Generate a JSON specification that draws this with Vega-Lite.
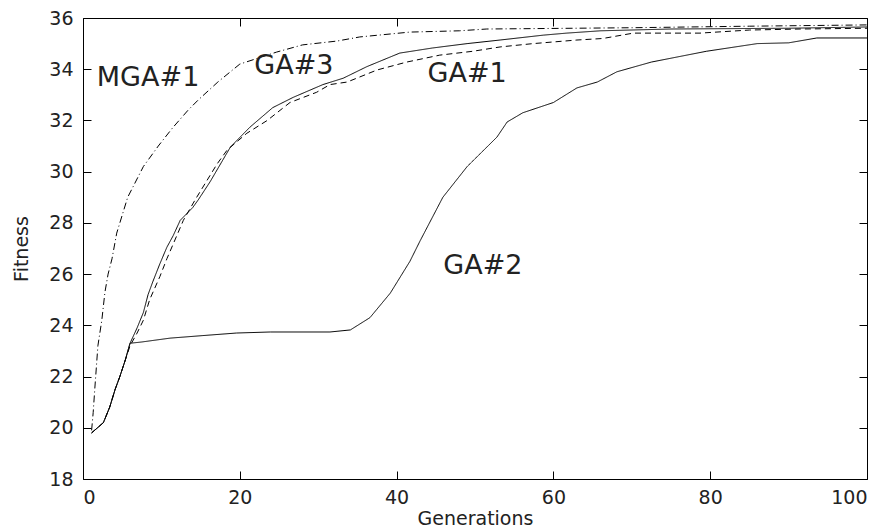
{
  "$schema": "https://vega.github.io/schema/vega-lite/v6.json",
  "width": 784,
  "height": 461,
  "autosize": "none",
  "padding": {"left": 83, "top": 18, "right": 22, "bottom": 52},
  "background": "white",
  "config": {
    "view": {"stroke": "black", "strokeWidth": 1},
    "font": "DejaVu Sans",
    "axis": {
      "grid": false,
      "domain": false,
      "tickColor": "black",
      "tickWidth": 1,
      "labelColor": "#222",
      "titleColor": "#222",
      "labelFont": "DejaVu Sans",
      "titleFont": "DejaVu Sans",
      "labelFontSize": 19,
      "titleFontWeight": "normal"
    }
  },
  "datasets": {
    "curves": [
      {"series": "GA#2", "gen": 1.1, "fitness": 19.8},
      {"series": "GA#2", "gen": 2.6, "fitness": 20.2},
      {"series": "GA#2", "gen": 3.4, "fitness": 20.8},
      {"series": "GA#2", "gen": 4.1, "fitness": 21.5},
      {"series": "GA#2", "gen": 4.7, "fitness": 22.0},
      {"series": "GA#2", "gen": 5.4, "fitness": 22.65},
      {"series": "GA#2", "gen": 6.0, "fitness": 23.3},
      {"series": "GA#2", "gen": 7.5, "fitness": 23.35},
      {"series": "GA#2", "gen": 11.1, "fitness": 23.5},
      {"series": "GA#2", "gen": 15.3, "fitness": 23.6},
      {"series": "GA#2", "gen": 19.6, "fitness": 23.7},
      {"series": "GA#2", "gen": 23.9, "fitness": 23.74},
      {"series": "GA#2", "gen": 31.5, "fitness": 23.74},
      {"series": "GA#2", "gen": 34.1, "fitness": 23.82},
      {"series": "GA#2", "gen": 36.6, "fitness": 24.3},
      {"series": "GA#2", "gen": 39.2, "fitness": 25.26},
      {"series": "GA#2", "gen": 41.7, "fitness": 26.5},
      {"series": "GA#2", "gen": 43.0, "fitness": 27.3},
      {"series": "GA#2", "gen": 45.9, "fitness": 29.0},
      {"series": "GA#2", "gen": 49.0, "fitness": 30.2},
      {"series": "GA#2", "gen": 52.8, "fitness": 31.35},
      {"series": "GA#2", "gen": 54.1, "fitness": 31.94},
      {"series": "GA#2", "gen": 56.1, "fitness": 32.3},
      {"series": "GA#2", "gen": 60.0, "fitness": 32.7},
      {"series": "GA#2", "gen": 63.0, "fitness": 33.27},
      {"series": "GA#2", "gen": 65.6, "fitness": 33.5},
      {"series": "GA#2", "gen": 68.1, "fitness": 33.9},
      {"series": "GA#2", "gen": 72.5, "fitness": 34.28},
      {"series": "GA#2", "gen": 79.5, "fitness": 34.7},
      {"series": "GA#2", "gen": 86.0, "fitness": 35.0},
      {"series": "GA#2", "gen": 90.0, "fitness": 35.03},
      {"series": "GA#2", "gen": 93.6, "fitness": 35.22},
      {"series": "GA#2", "gen": 100, "fitness": 35.22},

      {"series": "GA#3", "gen": 1.1, "fitness": 19.8},
      {"series": "GA#3", "gen": 2.6, "fitness": 20.2},
      {"series": "GA#3", "gen": 3.4, "fitness": 20.8},
      {"series": "GA#3", "gen": 4.1, "fitness": 21.5},
      {"series": "GA#3", "gen": 4.7, "fitness": 22.0},
      {"series": "GA#3", "gen": 5.4, "fitness": 22.65},
      {"series": "GA#3", "gen": 6.0, "fitness": 23.3},
      {"series": "GA#3", "gen": 6.9, "fitness": 23.9},
      {"series": "GA#3", "gen": 7.7, "fitness": 24.5},
      {"series": "GA#3", "gen": 8.3, "fitness": 25.2},
      {"series": "GA#3", "gen": 8.9, "fitness": 25.7},
      {"series": "GA#3", "gen": 9.8, "fitness": 26.4},
      {"series": "GA#3", "gen": 10.7, "fitness": 27.05},
      {"series": "GA#3", "gen": 11.5, "fitness": 27.5},
      {"series": "GA#3", "gen": 12.4, "fitness": 28.1},
      {"series": "GA#3", "gen": 14.0, "fitness": 28.6},
      {"series": "GA#3", "gen": 14.7, "fitness": 28.9},
      {"series": "GA#3", "gen": 16.2, "fitness": 29.6},
      {"series": "GA#3", "gen": 18.8, "fitness": 30.96},
      {"series": "GA#3", "gen": 21.3, "fitness": 31.74},
      {"series": "GA#3", "gen": 24.2, "fitness": 32.5},
      {"series": "GA#3", "gen": 26.8, "fitness": 32.9},
      {"series": "GA#3", "gen": 30.6, "fitness": 33.4},
      {"series": "GA#3", "gen": 33.2, "fitness": 33.65},
      {"series": "GA#3", "gen": 36.2, "fitness": 34.1},
      {"series": "GA#3", "gen": 40.4, "fitness": 34.63},
      {"series": "GA#3", "gen": 44.6, "fitness": 34.83},
      {"series": "GA#3", "gen": 49.0, "fitness": 35.0},
      {"series": "GA#3", "gen": 53.2, "fitness": 35.14},
      {"series": "GA#3", "gen": 58.7, "fitness": 35.33},
      {"series": "GA#3", "gen": 61.7, "fitness": 35.41},
      {"series": "GA#3", "gen": 66.0, "fitness": 35.5},
      {"series": "GA#3", "gen": 75.0, "fitness": 35.57},
      {"series": "GA#3", "gen": 90.0, "fitness": 35.6},
      {"series": "GA#3", "gen": 100, "fitness": 35.65},

      {"series": "GA#1", "gen": 1.1, "fitness": 19.8},
      {"series": "GA#1", "gen": 2.6, "fitness": 20.2},
      {"series": "GA#1", "gen": 3.4, "fitness": 20.8},
      {"series": "GA#1", "gen": 4.1, "fitness": 21.5},
      {"series": "GA#1", "gen": 4.7, "fitness": 22.0},
      {"series": "GA#1", "gen": 5.4, "fitness": 22.65},
      {"series": "GA#1", "gen": 6.0, "fitness": 23.2},
      {"series": "GA#1", "gen": 6.9, "fitness": 23.7},
      {"series": "GA#1", "gen": 7.7, "fitness": 24.2},
      {"series": "GA#1", "gen": 8.5, "fitness": 25.0},
      {"series": "GA#1", "gen": 9.8, "fitness": 25.9},
      {"series": "GA#1", "gen": 10.7, "fitness": 26.6},
      {"series": "GA#1", "gen": 12.8, "fitness": 28.1},
      {"series": "GA#1", "gen": 14.3, "fitness": 28.9},
      {"series": "GA#1", "gen": 15.3, "fitness": 29.4},
      {"series": "GA#1", "gen": 17.1, "fitness": 30.3},
      {"series": "GA#1", "gen": 18.4, "fitness": 30.85},
      {"series": "GA#1", "gen": 20.9, "fitness": 31.5},
      {"series": "GA#1", "gen": 23.5, "fitness": 32.0},
      {"series": "GA#1", "gen": 26.4, "fitness": 32.7},
      {"series": "GA#1", "gen": 29.8, "fitness": 33.1},
      {"series": "GA#1", "gen": 31.5, "fitness": 33.4},
      {"series": "GA#1", "gen": 33.7, "fitness": 33.5},
      {"series": "GA#1", "gen": 37.5, "fitness": 33.97},
      {"series": "GA#1", "gen": 41.3, "fitness": 34.28},
      {"series": "GA#1", "gen": 45.5, "fitness": 34.55},
      {"series": "GA#1", "gen": 49.7, "fitness": 34.7},
      {"series": "GA#1", "gen": 53.2, "fitness": 34.87},
      {"series": "GA#1", "gen": 57.4, "fitness": 35.0},
      {"series": "GA#1", "gen": 63.0, "fitness": 35.14},
      {"series": "GA#1", "gen": 66.3, "fitness": 35.2},
      {"series": "GA#1", "gen": 70.2, "fitness": 35.41},
      {"series": "GA#1", "gen": 78.7, "fitness": 35.41},
      {"series": "GA#1", "gen": 85.0, "fitness": 35.53},
      {"series": "GA#1", "gen": 91.5, "fitness": 35.57},
      {"series": "GA#1", "gen": 100, "fitness": 35.6},

      {"series": "MGA#1", "gen": 1.1, "fitness": 19.9},
      {"series": "MGA#1", "gen": 1.3, "fitness": 20.6},
      {"series": "MGA#1", "gen": 1.5, "fitness": 21.5},
      {"series": "MGA#1", "gen": 1.9, "fitness": 23.2},
      {"series": "MGA#1", "gen": 2.4, "fitness": 24.2},
      {"series": "MGA#1", "gen": 2.8, "fitness": 25.3},
      {"series": "MGA#1", "gen": 3.2, "fitness": 26.0},
      {"series": "MGA#1", "gen": 3.7, "fitness": 26.6},
      {"series": "MGA#1", "gen": 4.3, "fitness": 27.6},
      {"series": "MGA#1", "gen": 5.7, "fitness": 29.0},
      {"series": "MGA#1", "gen": 7.7, "fitness": 30.2},
      {"series": "MGA#1", "gen": 9.6, "fitness": 31.0},
      {"series": "MGA#1", "gen": 11.4, "fitness": 31.7},
      {"series": "MGA#1", "gen": 13.4, "fitness": 32.4},
      {"series": "MGA#1", "gen": 14.7, "fitness": 32.8},
      {"series": "MGA#1", "gen": 17.2, "fitness": 33.5},
      {"series": "MGA#1", "gen": 20.0, "fitness": 34.2},
      {"series": "MGA#1", "gen": 24.7, "fitness": 34.67},
      {"series": "MGA#1", "gen": 28.0, "fitness": 34.95},
      {"series": "MGA#1", "gen": 32.4, "fitness": 35.1},
      {"series": "MGA#1", "gen": 35.3, "fitness": 35.26},
      {"series": "MGA#1", "gen": 41.7, "fitness": 35.45},
      {"series": "MGA#1", "gen": 48.0, "fitness": 35.5},
      {"series": "MGA#1", "gen": 51.5, "fitness": 35.57},
      {"series": "MGA#1", "gen": 70.0, "fitness": 35.62},
      {"series": "MGA#1", "gen": 85.0, "fitness": 35.68},
      {"series": "MGA#1", "gen": 100, "fitness": 35.73}
    ],
    "labels": [
      {"label": "MGA#1", "gen": 8.3, "fitness": 33.66},
      {"label": "GA#3", "gen": 26.9, "fitness": 34.13},
      {"label": "GA#1", "gen": 49.0, "fitness": 33.81},
      {"label": "GA#2", "gen": 51.0, "fitness": 26.32}
    ]
  },
  "layer": [
    {
      "data": {"name": "curves"},
      "mark": {"type": "line", "strokeWidth": 1, "color": "black", "clip": true},
      "encoding": {
        "x": {
          "field": "gen", "type": "quantitative",
          "scale": {"domain": [0, 100], "nice": false, "zero": false},
          "axis": {"orient": "bottom", "values": [0, 20, 40, 60, 80, 100], "ticks": false, "labelPadding": 9, "title": "Generations", "titleFontSize": 19, "titlePadding": 2}
        },
        "y": {
          "field": "fitness", "type": "quantitative",
          "scale": {"domain": [18, 36], "nice": false, "zero": false},
          "axis": {"orient": "left", "values": [18, 20, 22, 24, 26, 28, 30, 32, 34, 36], "ticks": false, "labelPadding": 10, "title": "Fitness", "titleFontSize": 19, "titlePadding": 17}
        },
        "detail": {"field": "series", "type": "nominal"},
        "strokeDash": {
          "field": "series", "type": "nominal",
          "scale": {"domain": ["GA#2", "GA#3", "GA#1", "MGA#1"], "range": [[1, 0], [1, 0], [6, 4], [7, 3, 1, 3]]},
          "legend": null
        }
      }
    },
    {
      "data": {"name": "labels"},
      "transform": [{"filter": "datum.label === 'MGA#1' || datum.label === 'GA#3'"}],
      "mark": {"type": "text", "font": "DejaVu Sans", "fontSize": 27, "color": "#222", "align": "center", "baseline": "middle"},
      "encoding": {
        "x": {
          "field": "gen", "type": "quantitative",
          "scale": {"domain": [0, 100], "nice": false, "zero": false},
          "axis": {"orient": "top", "offset": -461, "values": [0, 20, 40, 60, 80, 100], "tickSize": 8, "labels": false, "title": null}
        },
        "y": {
          "field": "fitness", "type": "quantitative",
          "scale": {"domain": [18, 36], "nice": false, "zero": false},
          "axis": {"orient": "right", "offset": -784, "values": [18, 20, 22, 24, 26, 28, 30, 32, 34, 36], "tickSize": 8, "labels": false, "title": null}
        },
        "text": {"field": "label", "type": "nominal"}
      }
    },
    {
      "data": {"name": "labels"},
      "transform": [{"filter": "datum.label === 'GA#1' || datum.label === 'GA#2'"}],
      "mark": {"type": "text", "font": "DejaVu Sans", "fontSize": 27, "color": "#222", "align": "center", "baseline": "middle"},
      "encoding": {
        "x": {
          "field": "gen", "type": "quantitative",
          "scale": {"domain": [0, 100], "nice": false, "zero": false},
          "axis": {"orient": "bottom", "offset": -461, "values": [0, 20, 40, 60, 80, 100], "tickSize": 8, "labels": false, "title": null}
        },
        "y": {
          "field": "fitness", "type": "quantitative",
          "scale": {"domain": [18, 36], "nice": false, "zero": false},
          "axis": {"orient": "left", "offset": -784, "values": [18, 20, 22, 24, 26, 28, 30, 32, 34, 36], "tickSize": 8, "labels": false, "title": null}
        },
        "text": {"field": "label", "type": "nominal"}
      }
    }
  ],
  "resolve": {"axis": {"x": "independent", "y": "independent"}}
}
